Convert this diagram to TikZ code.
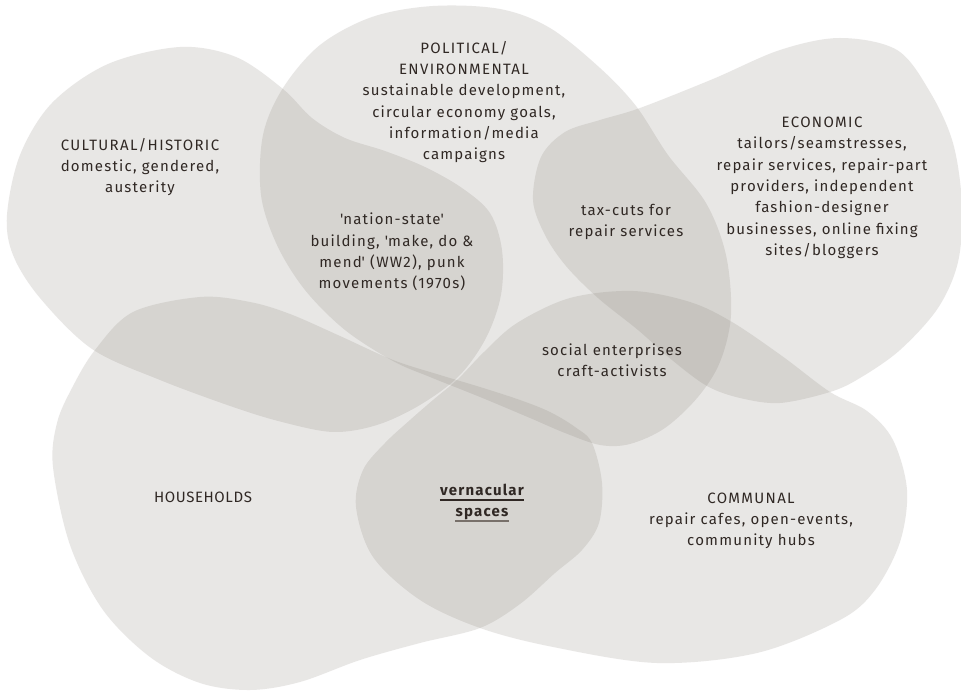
\documentclass[tikz,border=0pt]{standalone}
\usepackage{fontspec}
\setmainfont{Fira Sans}[LetterSpace=8]
\definecolor{blobfill}{RGB}{133,127,116}
\definecolor{ink}{RGB}{48,40,36}
\definecolor{inkgray}{RGB}{120,112,106}
\newcommand\capsl[1]{{\addfontfeatures{LetterSpace=9}#1}}
\newcommand\capsn[1]{{\addfontfeatures{LetterSpace=4}#1}}
\newcommand\sq{\textquotesingle}
\begin{document}
\begin{tikzpicture}[x=0.75pt,y=-0.75pt,
  blob/.style={fill=blobfill, fill opacity=0.18, draw=none},
  lbl/.style={text=ink, align=center, inner sep=0pt, font=\fontsize{11.25}{16}\selectfont}]
\useasboundingbox (0,0) rectangle (961,691);
\fill[white] (0,0) rectangle (961,691);
% cultural / historic
\path[blob] plot[smooth cycle, tension=0.55] coordinates {
 (7,215) (20,155) (52,103) (108,64) (180,47) (236,57) (283,89) (312,118)
 (345,138) (385,151) (425,167) (462,188) (490,213) (502,250) (501,295)
 (486,338) (459,376) (420,405) (377,425) (333,432) (282,422) (233,407)
 (160,380) (92,349) (40,298) (13,255)};
% political / environmental
\path[blob] plot[smooth cycle, tension=0.55] coordinates {
 (433,6) (500,9) (550,28) (600,68) (636,106) (668,155) (706,203) (726,255)
 (731,315) (720,362) (698,397) (665,428) (630,444) (600,445) (565,433)
 (530,418) (480,397) (430,377) (393,361) (345,330) (305,290) (277,245)
 (261,195) (263,135) (283,88) (320,45) (372,17)};
% economic
\path[blob] plot[smooth cycle, tension=0.55] coordinates {
 (533,200) (541,157) (565,132) (600,120) (640,108) (713,79) (780,50)
 (840,38) (897,50) (930,92) (953,143) (962,205) (958,262) (938,308)
 (900,350) (860,378) (830,392) (780,403) (740,398) (707,386) (672,360)
 (638,330) (598,298) (566,266) (545,235)};
% communal
\path[blob] plot[smooth cycle, tension=0.55] coordinates {
 (356,507) (363,470) (385,443) (410,420) (433,400) (458,379) (484,352)
 (517,323) (570,298) (633,291) (690,302) (732,322) (782,356) (830,392)
 (867,411) (893,440) (907,490) (900,542) (875,590) (840,620) (757,653)
 (657,663) (553,647) (480,628) (420,600) (373,557)};
% households
\path[blob] plot[smooth cycle, tension=0.55] coordinates {
 (53,467) (57,423) (72,388) (95,350) (133,312) (200,297) (250,302)
 (290,314) (340,336) (393,360) (440,375) (480,387) (520,400) (550,412)
 (575,427) (592,443) (602,483) (599,523) (582,550) (555,573) (520,604)
 (480,628) (420,643) (360,660) (300,682) (250,690) (200,683) (150,657)
 (103,610) (70,545)};

\node[lbl] (pol) at (464,102) {\capsl{POLITICAL/}\\\capsl{ENVIRONMENTAL}\\sustainable development,\\circular economy goals,\\information/media\\campaigns};
\node[lbl] (cul) at (140,167) {\capsl{CULTURAL/HISTORIC}\\domestic, gendered,\\austerity};
\node[lbl] (nat) at (392,252) {\sq nation-state\sq\\building, \sq make, do \&\\mend\sq\ (WW2), punk\\movements (1970s)};
\node[lbl] (tax) at (626,222) {tax-cuts for\\repair services};
\node[lbl] (eco) at (822,188) {\capsl{ECONOMIC}\\tailors/seamstresses,\\repair services, repair-part\\providers, independent\\fashion-designer\\businesses, online fixing\\sites/bloggers};
\node[lbl] (soc) at (612,360) {social enterprises\\craft-activists};
\node[lbl] (hou) at (203,497) {\capsn{HOUSEHOLDS}};
\node[lbl, font=\fontsize{11.25}{16}\selectfont\bfseries, anchor=base] (ver1) at (482,496) {vernacular};
\node[lbl, font=\fontsize{11.25}{16}\selectfont\bfseries, anchor=base] (ver2) at (482,517) {spaces};
\draw[ink, line width=0.9pt] ([yshift=-3pt]ver1.base west) -- ([yshift=-3pt]ver1.base east);
\draw[inkgray, line width=0.9pt] ([yshift=-3pt]ver2.base west) -- ([yshift=-3pt]ver2.base east);
\node[lbl] (com) at (751,521) {\capsl{COMMUNAL}\\repair cafes, open-events,\\community hubs};
\end{tikzpicture}
\end{document}
